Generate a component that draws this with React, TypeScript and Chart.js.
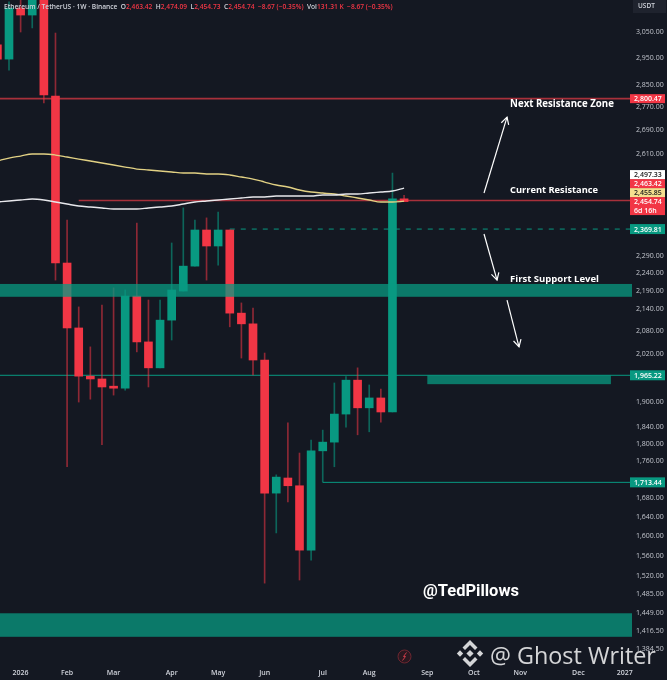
import React, { useEffect, useRef } from "react";
import { Chart, registerables } from "chart.js";

Chart.register(...registerables);

// ---------- data ----------
const WEEKS = [0, 1, 2, 3, 4, 5, 6, 7, 8, 9, 10, 11, 12, 13, 14, 15, 16, 17, 18, 19, 20, 21, 22, 23, 24, 25, 26, 27, 28, 29, 30, 31, 32, 33, 34, 35];
const OPEN = [3000, 2946, 3145, 3117, 3290, 2810, 2269, 2088, 1963, 1956, 1938, 1933, 2175, 2051, 1984, 2109, 2189, 2260, 2367, 2319, 2367, 2128, 2099, 2004, 1690, 1723, 1706, 1571, 1784, 1804, 1870, 1953, 1885, 1909, 1875, 2463.42];
const HIGH = [3030, 3170, 3190, 3320, 3330, 3046, 2397, 2145, 2038, 2150, 2198, 2192, 2388, 2164, 2164, 2328, 2435, 2397, 2404, 2422, 2367, 2156, 2142, 2022, 1730, 1849, 1779, 1809, 1832, 1946, 1962, 1984, 1941, 1931, 2546, 2474.09];
const LOW = [2930, 2905, 3050, 3066, 2785, 2220, 1748, 1899, 1906, 1798, 1916, 1928, 2025, 1936, 1984, 2056, 2189, 2260, 2220, 2263, 2091, 2009, 1966, 1506, 1606, 1671, 1512, 1551, 1714, 1748, 1839, 1821, 1828, 1851, 1875, 2454.73];
const CLOSE = [2946, 3145, 3117, 3290, 2814, 2269, 2088, 1963, 1956, 1936, 1933, 2175, 2051, 1984, 2109, 2192, 2260, 2367, 2319, 2367, 2128, 2099, 2004, 1690, 1725, 1706, 1571, 1784, 1804, 1870, 1953, 1885, 1909, 1875, 2463.42, 2454.74];
const MA_WHITE = [2453.4, 2456.6, 2459.7, 2462.8, 2459.7, 2453.4, 2447.1, 2440.9, 2437.8, 2434.7, 2431.5, 2431.5, 2431.5, 2434.7, 2437.8, 2440.9, 2447.1, 2453.4, 2456.6, 2459.7, 2462.8, 2466.0, 2469.2, 2469.2, 2472.3, 2472.3, 2472.3, 2472.3, 2475.5, 2475.5, 2478.7, 2478.7, 2481.8, 2485.0, 2488.2, 2497.33];
const MA_YELLOW = [2585.6, 2595.5, 2602.2, 2608.9, 2608.9, 2605.5, 2598.9, 2592.2, 2585.6, 2579.0, 2572.4, 2565.8, 2559.2, 2556.0, 2552.7, 2549.5, 2546.2, 2546.2, 2543.0, 2543.0, 2539.7, 2533.2, 2526.7, 2517.0, 2507.4, 2501.0, 2491.4, 2485.0, 2481.8, 2478.7, 2472.3, 2466.0, 2459.7, 2453.4, 2453.4, 2455.85];

const Y_TICKS = [3050, 2950, 2850, 2770, 2690, 2610, 2290, 2240, 2190, 2140, 2080, 2020, 1900, 1840, 1800, 1760, 1680, 1640, 1600, 1560, 1520, 1485, 1449, 1416.5, 1384.5];
const X_TICK_WEEKS = [2, 6, 10, 15, 19, 23, 28, 32, 37, 41, 45, 50, 54];
const X_TICK_LABELS = ["2026", "Feb", "Mar", "Apr", "May", "Jun", "Jul", "Aug", "Sep", "Oct", "Nov", "Dec", "2027"];

const X_RANGE = [0.2255, 54.615];
const Y_RANGE = [1363.1, 3177.6];

const RESIST_HIGH = 2800.47;
const RESIST_NOW = 2458;
const RESIST_NOW_FROM = 7;
const DASH_LEVEL = 2369.81;
const DASH_FROM = 20;
const SUPPORT_LINE = 1965.22;
const LOW_LINE = 1713.44;
const LOW_LINE_FROM = 28;
const SUPPORT_BAND = [2173, 2209];
const BOTTOM_BAND = [1406, 1449];
const ZONE_BOX = [1943, 1965.22];
const ZONE_WEEKS = [37, 52.8];

const ARROWS = [
  { from: [41.88, 2482], to: [43.86, 2735] },
  { from: [41.88, 2355], to: [43.0, 2220] },
  { from: [43.86, 2164], to: [44.89, 2038] },
];
const NOTES = [
  { text: "Next Resistance Zone", week: 44.12, price: 2782, width: 104 },
  { text: "Current Resistance", week: 44.12, price: 2491, width: 88 },
  { text: "First Support Level", week: 44.12, price: 2223, width: 89 },
];
const AUTHOR = { text: "@TedPillows", week: 36.63, price: 1489, width: 96 };

const LAST_PRICE = 2454.74;
const STACK_LABELS = [
  { value: 2455.85, bg: "#f5df8f", fg: "#1a1a1a" },
  { value: 2463.42, bg: "#f23645", fg: "#ffffff" },
  { value: 2497.33, bg: "#ffffff", fg: "#1a1a1a" },
];
const TEAL_LABELS = [2369.81, 1965.22, 1713.44];

const BG = "#141822";
const RED = "#f23645";
const GREEN = "#089981";

const fmt = (v: number) =>
  v.toLocaleString("en-US", { minimumFractionDigits: 2, maximumFractionDigits: 2 });

function fitFont(ctx: CanvasRenderingContext2D, text: string, target: number, weight: string, family: string) {
  ctx.font = `${weight} 10px ${family}`;
  const w = ctx.measureText(text).width;
  const size = (10 * target) / w;
  ctx.font = `${weight} ${size.toFixed(2)}px ${family}`;
}

export default function App() {
  const ref = useRef<HTMLCanvasElement>(null);

  useEffect(() => {
    document.body.style.margin = "0";
    document.body.style.background = BG;
    const canvas = ref.current!;

    const overlay = {
      id: "overlay",
      beforeDraw(chart: any) {
        const c = chart.ctx;
        c.save();
        c.fillStyle = BG;
        c.fillRect(0, 0, chart.width, chart.height);
        c.restore();
      },
      beforeDatasetsDraw(chart: any) {
        const { ctx: c, chartArea: a, scales } = chart;
        const xs = scales.x, ys = scales.y;
        c.save();
        c.beginPath();
        c.rect(a.left, a.top, a.width, a.height);
        c.clip();
        const hline = (v: number, from: number | null, color: string, w: number, dash: number[] = []) => {
          const y = ys.getPixelForValue(v);
          const x0 = from === null ? a.left : xs.getPixelForValue(from);
          c.strokeStyle = color;
          c.lineWidth = w;
          c.setLineDash(dash);
          c.beginPath();
          c.moveTo(x0, y);
          c.lineTo(a.right, y);
          c.stroke();
        };
        hline(RESIST_HIGH, null, "#a8303b", 1.6);
        hline(RESIST_NOW, RESIST_NOW_FROM, "#a8303b", 1.6);
        hline(SUPPORT_LINE, null, GREEN, 1);
        hline(LOW_LINE, LOW_LINE_FROM, GREEN, 1);
        hline(DASH_LEVEL, DASH_FROM, GREEN, 1, [5, 6]);
        c.restore();
      },
      afterDatasetsDraw(chart: any) {
        const { ctx: c, chartArea: a, scales } = chart;
        const xs = scales.x, ys = scales.y;
        c.save();
        c.beginPath();
        c.rect(a.left, a.top, a.width, a.height);
        c.clip();
        c.fillStyle = "rgba(8,153,129,0.75)";
        const band = (lo: number, hi: number, x0: number, x1: number) => {
          const y0 = ys.getPixelForValue(hi);
          const y1 = ys.getPixelForValue(lo);
          c.fillRect(x0, y0, x1 - x0, y1 - y0);
        };
        band(SUPPORT_BAND[0], SUPPORT_BAND[1], a.left, a.right);
        band(BOTTOM_BAND[0], BOTTOM_BAND[1], a.left, a.right);
        band(ZONE_BOX[0], ZONE_BOX[1], xs.getPixelForValue(ZONE_WEEKS[0]), xs.getPixelForValue(ZONE_WEEKS[1]));
        c.restore();
      },
      afterDraw(chart: any) {
        const { ctx: c, chartArea: a, scales } = chart;
        const xs = scales.x, ys = scales.y;
        c.save();
        // arrows
        c.strokeStyle = "#ffffff";
        c.lineWidth = 1.2;
        c.setLineDash([]);
        ARROWS.forEach((ar) => {
          const x1 = xs.getPixelForValue(ar.from[0]), y1 = ys.getPixelForValue(ar.from[1]);
          const x2 = xs.getPixelForValue(ar.to[0]), y2 = ys.getPixelForValue(ar.to[1]);
          c.beginPath();
          c.moveTo(x1, y1);
          c.lineTo(x2, y2);
          c.stroke();
          const ang = Math.atan2(y2 - y1, x2 - x1);
          const L = 8;
          c.beginPath();
          c.moveTo(x2 - L * Math.cos(ang - 0.5), y2 - L * Math.sin(ang - 0.5));
          c.lineTo(x2, y2);
          c.lineTo(x2 - L * Math.cos(ang + 0.5), y2 - L * Math.sin(ang + 0.5));
          c.stroke();
        });
        // notes
        c.fillStyle = "#ffffff";
        c.textBaseline = "middle";
        c.textAlign = "left";
        NOTES.forEach((n) => {
          fitFont(c, n.text, n.width, "bold", "'Open Sans'");
          c.fillText(n.text, xs.getPixelForValue(n.week), ys.getPixelForValue(n.price));
        });
        fitFont(c, AUTHOR.text, AUTHOR.width, "bold", "Roboto");
        c.fillText(AUTHOR.text, xs.getPixelForValue(AUTHOR.week), ys.getPixelForValue(AUTHOR.price));

        // price axis labels
        const bx = a.right - 2;
        const bw = chart.width - bx - 2;
        c.font = "600 7px 'Open Sans'";
        const box = (top: number, h: number, bg: string, fg: string, lines: string[]) => {
          c.fillStyle = bg;
          c.fillRect(bx, top, bw, h);
          c.fillStyle = fg;
          lines.forEach((t, k) => c.fillText(t, bx + 4, top + h / lines.length / 2 + 0.5 + (k * h) / lines.length));
        };
        const yHigh = ys.getPixelForValue(RESIST_HIGH);
        box(yHigh - 4.5, 9, RED, "#ffffff", [fmt(RESIST_HIGH)]);
        const yLast = ys.getPixelForValue(LAST_PRICE);
        let top = yLast - 4.5;
        box(top, 18, RED, "#ffffff", [fmt(LAST_PRICE), "6d 16h"]);
        STACK_LABELS.forEach((s) => {
          top -= 9;
          box(top, 9, s.bg, s.fg, [fmt(s.value)]);
        });
        TEAL_LABELS.forEach((v) => {
          const y = ys.getPixelForValue(v);
          box(y - 5, 10, GREEN, "#ffffff", [fmt(v)]);
        });
        // USDT badge
        c.fillStyle = "#1f232e";
        c.fillRect(bx + 3, 0, bw - 2, 13);
        c.fillStyle = "#d1d4dc";
        c.font = "600 6.5px 'Open Sans'";
        c.fillText("USDT", bx + 8, 6.5);

        // header
        const fg = "#d1d4dc";
        const parts: [string, string][] = [
          ["Ethereum / TetherUS · 1W · Binance", fg],
          ["  O", fg], ["2,463.42", RED],
          ["  H", fg], ["2,474.09", RED],
          ["  L", fg], ["2,454.73", RED],
          ["  C", fg], ["2,454.74  −8.67 (−0.35%)", RED],
          ["  Vol", fg], ["131.31 K  −8.67 (−0.35%)", RED],
        ];
        c.font = "600 7px 'Open Sans'";
        const total = parts.reduce((s, p) => s + c.measureText(p[0]).width, 0);
        const size = (7 * 389) / total;
        c.font = `600 ${size.toFixed(2)}px 'Open Sans'`;
        let hx = 4;
        parts.forEach(([t, col]) => {
          c.fillStyle = col;
          c.fillText(t, hx, 7);
          hx += c.measureText(t).width;
        });

        // small red icon
        c.beginPath();
        c.arc(404.5, 656.5, 6.5, 0, Math.PI * 2);
        c.fillStyle = "#2a1820";
        c.fill();
        c.strokeStyle = "#6e2630";
        c.lineWidth = 1;
        c.stroke();
        c.strokeStyle = "#c93a47";
        c.beginPath();
        c.moveTo(406.5, 652.5);
        c.lineTo(403.5, 656.5);
        c.lineTo(405.5, 656.5);
        c.lineTo(402.5, 660.5);
        c.stroke();

        // watermark
        const wm = "rgba(255,255,255,0.82)";
        c.fillStyle = wm;
        const cx = 470, cy = 653.5;
        const diamond = (x: number, y: number, r: number) => {
          c.beginPath();
          c.moveTo(x, y - r);
          c.lineTo(x + r, y);
          c.lineTo(x, y + r);
          c.lineTo(x - r, y);
          c.closePath();
          c.fill();
        };
        diamond(cx, cy, 3.6);
        diamond(cx - 10, cy, 3.2);
        diamond(cx + 10, cy, 3.2);
        [-1, 1].forEach((d) => {
          c.beginPath();
          c.moveTo(cx, cy + d * 13.5);
          c.lineTo(cx + 7.5, cy + d * 6);
          c.lineTo(cx + 5, cy + d * 3.5);
          c.lineTo(cx, cy + d * 8.5);
          c.lineTo(cx - 5, cy + d * 3.5);
          c.lineTo(cx - 7.5, cy + d * 6);
          c.closePath();
          c.fill();
        });
        c.textBaseline = "alphabetic";
        fitFont(c, "@ Ghost Writer", 166, "normal", "'Open Sans'");
        c.fillStyle = wm;
        c.fillText("@ Ghost Writer", 490, 664);
        c.restore();
      },
    };

    const noPad = (s: any) => {
      s.paddingTop = 0;
      s.paddingBottom = 0;
      s.paddingLeft = 0;
      s.paddingRight = 0;
    };

    const chart = new Chart(canvas, {
      type: "bar",
      data: {
        datasets: [
          {
            type: "line",
            data: WEEKS.map((w, i) => ({ x: w, y: MA_WHITE[i] })),
            borderColor: "#e8e8ec",
            borderWidth: 1.4,
            pointRadius: 0,
            cubicInterpolationMode: "monotone",
          } as any,
          {
            type: "line",
            data: WEEKS.map((w, i) => ({ x: w, y: MA_YELLOW[i] })),
            borderColor: "#e2d184",
            borderWidth: 1.3,
            pointRadius: 0,
            cubicInterpolationMode: "monotone",
          } as any,
          {
            data: WEEKS.map((w, i) => ({ x: w, y: [OPEN[i], CLOSE[i]] })),
            backgroundColor: WEEKS.map((_, i) => (CLOSE[i] >= OPEN[i] ? GREEN : RED)),
            barThickness: 8,
            minBarLength: 1,
            grouped: false,
          } as any,
          {
            data: WEEKS.map((w, i) => ({ x: w, y: [LOW[i], HIGH[i]] })),
            backgroundColor: WEEKS.map((_, i) => (CLOSE[i] >= OPEN[i] ? "rgba(8,153,129,0.6)" : "rgba(242,54,69,0.55)")),
            barThickness: 1,
            grouped: false,
          } as any,
        ],
      },
      options: {
        responsive: false,
        animation: false,
        events: [],
        layout: { padding: 0 },
        plugins: { legend: { display: false }, tooltip: { enabled: false } },
        scales: {
          x: {
            type: "linear",
            min: X_RANGE[0],
            max: X_RANGE[1],
            offset: false,
            grid: { display: false, drawTicks: false },
            border: { display: false },
            afterBuildTicks: (s: any) => {
              s.ticks = X_TICK_WEEKS.map((v) => ({ value: v }));
            },
            afterFit: (s: any) => {
              s.height = 19;
              noPad(s);
            },
            ticks: {
              autoSkip: false,
              maxRotation: 0,
              padding: 8,
              color: "#d1d4dc",
              font: { size: 7, weight: "600", family: "'Open Sans'" },
              callback: (_v: any, i: number) => X_TICK_LABELS[i],
            },
          },
          y: {
            type: "logarithmic",
            position: "right",
            min: Y_RANGE[0],
            max: Y_RANGE[1],
            grid: { display: false, drawTicks: false },
            border: { display: false },
            afterBuildTicks: (s: any) => {
              s.ticks = Y_TICKS.map((v) => ({ value: v }));
            },
            afterFit: (s: any) => {
              s.width = 35;
              noPad(s);
            },
            ticks: {
              padding: 4,
              color: "#c3c6ce",
              font: { size: 7, family: "'Open Sans'" },
              callback: (v: any) => fmt(Number(v)),
            },
          },
        },
      } as any,
      plugins: [overlay],
    });
    return () => chart.destroy();
  }, []);

  return (
    <div style={{ width: 667, height: 680, position: "relative", background: BG }}>
      <canvas ref={ref} width={667} height={680} style={{ width: 667, height: 680, display: "block" }} />
    </div>
  );
}
